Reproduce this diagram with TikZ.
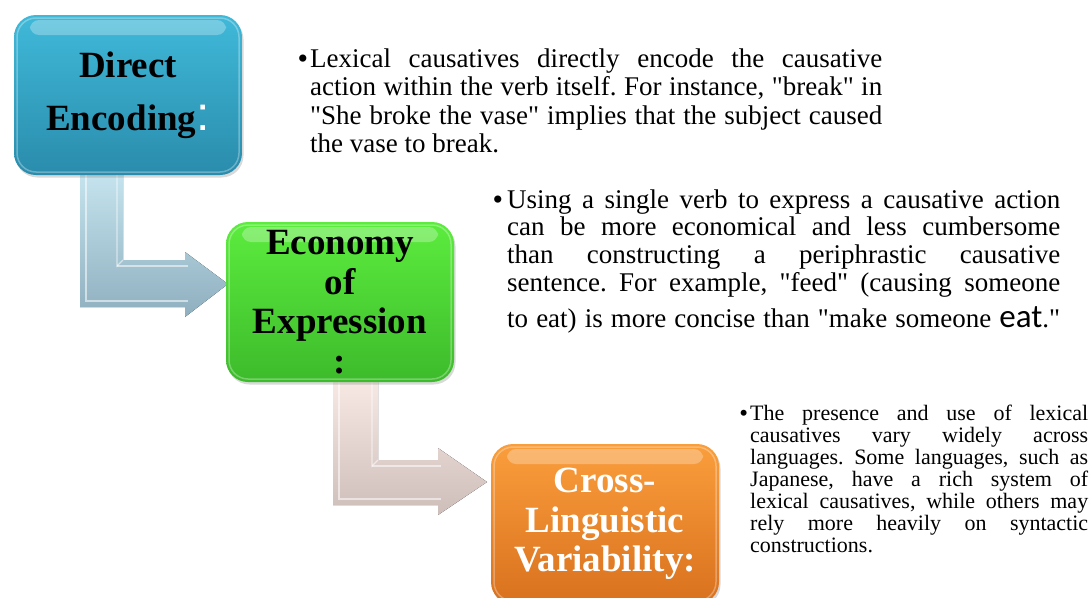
\documentclass[tikz,border=0pt]{standalone}
\usepackage{fontspec}
\setmainfont{Liberation Serif}[Ligatures=TeXOff]
\newfontfamily\arialfont{Liberation Sans}
\newfontfamily\calibrifont{Carlito}
\usetikzlibrary{shadows,calc,shadings}
\frenchspacing

\newcommand\jline[1]{\makebox[\linewidth][s]{#1}\par}
\newcommand\pbullet[3]{\llap{\fontsize{#3}{#3}\selectfont\raisebox{#1}{•}\hspace{#2}}}

\definecolor{tealtop}{HTML}{40B9D9}
\definecolor{tealbot}{HTML}{2A8CAC}
\definecolor{greentop}{HTML}{5CEC3E}
\definecolor{greenbot}{HTML}{3DBB2B}
\definecolor{orangetop}{HTML}{FA9E3C}
\definecolor{orangebot}{HTML}{D9711E}
\definecolor{blueA}{HTML}{C4E3EE}
\definecolor{blueB}{HTML}{8FAFBF}
\definecolor{pinkA}{HTML}{F7E8E4}
\definecolor{pinkB}{HTML}{CDBEBA}

\tikzset{
  box/.style={rounded corners=22pt, minimum width=228pt, minimum height=160pt,
    inner sep=0pt, align=center,
    font=\bfseries\fontsize{37}{39.5}\selectfont,
    drop shadow={shadow xshift=1.5pt, shadow yshift=-2.5pt, opacity=0.3},
    path picture={
      \fill[white, opacity=0.28, rounded corners=9pt]
        ($(path picture bounding box.north west)+(16,5)$) rectangle
        ($(path picture bounding box.north east)+(-16,20)$);
      \draw[white, opacity=0.3, line width=1.5pt, rounded corners=19pt]
        ($(path picture bounding box.north west)+(3,3)$) rectangle
        ($(path picture bounding box.south east)+(-3,-3)$);
    }},
  para/.style={anchor=base west, inner sep=0pt},
  bevel/.style={white, opacity=0.55, line width=1.1pt},
}

\begin{document}
\begin{tikzpicture}[x=1pt,y=-1pt]
\useasboundingbox (0,0) rectangle (1091,597);
\clip (0,0) rectangle (1091,597);

% bent arrows
\fill[top color=blueA, bottom color=blueB]
  (80,175) -- (80,307) -- (185,307) -- (185,317) -- (228,284) -- (185,252)
  -- (185,260) -- (123,260) -- (123,175) -- cycle;
\draw[bevel] (86,175) -- (86,301) -- (188,301);
\draw[bevel] (123,260) -- (117,266) -- (117,175);
\draw[bevel] (117,266) -- (188,266);

\fill[top color=pinkA, bottom color=pinkB]
  (333,382) -- (333,505) -- (438,505) -- (438,515) -- (487,482) -- (438,448)
  -- (438,460) -- (378,460) -- (378,382) -- cycle;
\draw[bevel] (339,382) -- (339,499) -- (441,499);
\draw[bevel] (378,460) -- (372,466) -- (372,382);
\draw[bevel] (372,466) -- (441,466);

% boxes
\node[box, top color=tealtop, bottom color=tealbot] (b1) at (128,95)
  {Direct\\[13.5pt]Encoding{\color{white}\arialfont\mdseries\fontsize{48}{48}\selectfont:}};
\node[box, top color=greentop, bottom color=greenbot] (b2) at (340,302)
  {Economy\\of\\Expression\\:};
\node[box, top color=orangetop, bottom color=orangebot, text=white] (b3) at (605,524)
  {Cross-\\Linguistic\\Variability:};

% paragraphs
\node[para] (t1) at (310,67) {\parbox[t]{572pt}{\fontsize{27}{28.5}\selectfont
  \jline{\pbullet{-1pt}{2pt}{30}Lexical causatives directly encode the causative}
  \jline{action within the verb itself. For instance, "break" in}
  \jline{"She broke the vase" implies that the subject caused}
  the vase to break.}};

\node[para] (t2) at (507,208) {\parbox[t]{553pt}{\fontsize{27}{27.7}\selectfont
  \jline{\pbullet{-1pt}{4pt}{30}Using a single verb to express a causative action}
  \jline{can be more economical and less cumbersome}
  \jline{than constructing a periphrastic causative}
  \jline{sentence. For example, "feed" (causing someone}
  \vspace{8.3pt}
  \jline{to eat) is more concise than "make someone {\calibrifont\fontsize{33}{33}\selectfont eat}."}}};

\node[para] (t3) at (750,420) {\parbox[t]{338pt}{\fontsize{22}{22}\selectfont
  \jline{\pbullet{-1pt}{2pt}{25}The presence and use of lexical}
  \jline{causatives vary widely across}
  \jline{languages. Some languages, such as}
  \jline{Japanese, have a rich system of}
  \jline{lexical causatives, while others may}
  \jline{rely more heavily on syntactic}
  constructions.}};
\end{tikzpicture}
\end{document}
